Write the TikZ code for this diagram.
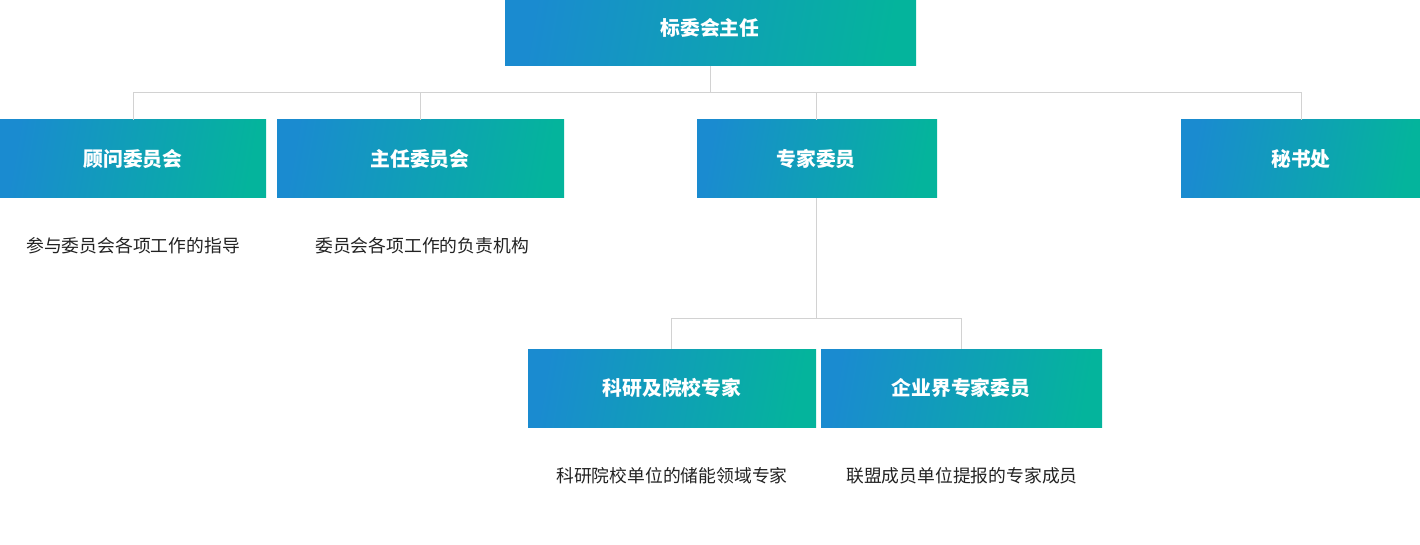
\documentclass[tikz,border=0pt]{standalone}
\usepackage{fontspec}
\setmainfont{Noto Sans CJK SC}
\definecolor{gblue}{HTML}{1A8BD0}
\definecolor{gteal}{HTML}{04B49C}
\definecolor{lgray}{HTML}{D2D2D2}
\definecolor{dtext}{HTML}{222222}
\tikzset{
  gbox/.style={draw=none, left color=gblue, right color=gteal, shading angle=80},
  btext/.style={text=white, font=\fontsize{19.8}{22}\selectfont\bfseries, inner sep=0pt},
  desc/.style={text=dtext, font=\fontsize{17.8}{20}\selectfont, inner sep=0pt},
  conn/.style={draw=lgray, line width=1pt},
}
\begin{document}
\begin{tikzpicture}[x=1pt,y=-1pt]
\useasboundingbox (0,0) rectangle (1420,545);
% boxes
\path[gbox] (505,0) rectangle (916,66);
\node[btext] (top) at (710,28) {标委会主任};
\coordinate (topb) at (710,66);

\path[gbox] (0,120) rectangle (266,198);
\node[btext] (gw) at (133,159) {顾问委员会};
\path[gbox] (277,120) rectangle (564,198);
\node[btext] (zr) at (420,159) {主任委员会};
\path[gbox] (697,120) rectangle (937,198);
\node[btext] (zj) at (816,159) {专家委员};
\path[gbox] (1181,120) rectangle (1420,198);
\node[btext] (ms) at (1301,159) {秘书处};

\path[gbox] (528,349) rectangle (816,427);
\node[btext] (ky) at (672,388) {科研及院校专家};
\path[gbox] (821,349) rectangle (1102,427);
\node[btext] (qy) at (961,388) {企业界专家委员};

% descriptions
\node[desc] (d1) at (133,246) {参与委员会各项工作的指导};
\node[desc] (d2) at (422,246) {委员会各项工作的负责机构};
\node[desc] (d3) at (672,476) {科研院校单位的储能领域专家};
\node[desc] (d4) at (962,476) {联盟成员单位提报的专家成员};

% connectors
\coordinate (gwt) at (133,120);
\coordinate (zrt) at (420,120);
\coordinate (zjt) at (816,120);
\coordinate (mst) at (1301,120);
\coordinate (zjb) at (816,198);
\coordinate (kyt) at (671,349);
\coordinate (qyt) at (961,349);
\draw[conn] (topb) -- (710,92.5);
\draw[conn] (gwt) -- (133,92.5) -- (1301,92.5) -- (mst);
\draw[conn] (zrt) -- (420,92.5);
\draw[conn] (zjt) -- (816,92.5);
\draw[conn] (zjb) -- (816,318.5);
\draw[conn] (kyt) -- (671,318.5) -- (961,318.5) -- (qyt);
\end{tikzpicture}
\end{document}
